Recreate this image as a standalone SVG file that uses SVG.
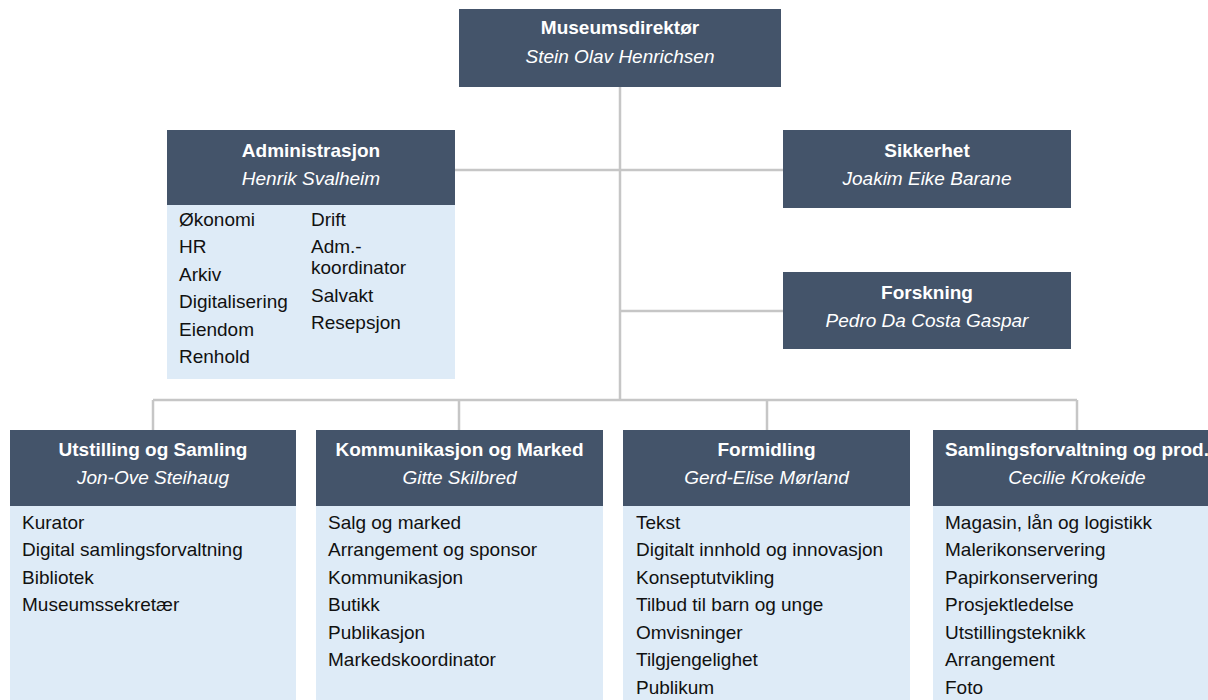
<svg xmlns="http://www.w3.org/2000/svg" width="1208" height="700" viewBox="0 0 1208 700">
<style>
.hd{fill:#44546A}
.bd{fill:#DEEBF7}
.t{font-family:"Liberation Sans",Arial,sans-serif;font-weight:bold;font-size:19px;fill:#FFFFFF;text-anchor:middle}
.n{font-family:"Liberation Sans",Arial,sans-serif;font-style:italic;font-size:19px;fill:#FFFFFF;text-anchor:middle}
.i{font-family:"Liberation Sans",Arial,sans-serif;font-size:19px;fill:#111111}
.c{fill:none;stroke:#C6C6C6;stroke-width:2.5}
</style>
<rect width="1208" height="700" fill="#FFFFFF"/>
<g id="connectors">
<path class="c" d="M620 87V400"/>
<path class="c" d="M455 170H783"/>
<path class="c" d="M620 311H783"/>
<path class="c" d="M153 400H1077"/>
<path class="c" d="M153 400V430M459 400V430M767 400V430M1077 400V430"/>
</g>
<g id="director">
<rect class="hd" x="459" y="9" width="322" height="78"/>
<text class="t" x="620" y="34">Museumsdirektør</text>
<text class="n" x="620" y="63">Stein Olav Henrichsen</text>
</g>
<g id="administrasjon">
<rect class="bd" x="167" y="205" width="288" height="174"/>
<rect class="hd" x="167" y="130" width="288" height="75"/>
<text class="t" x="311" y="157">Administrasjon</text>
<text class="n" x="311" y="185">Henrik Svalheim</text>
<text class="i" x="179" y="225.5">Økonomi</text>
<text class="i" x="179" y="253">HR</text>
<text class="i" x="179" y="280.5">Arkiv</text>
<text class="i" x="179" y="308">Digitalisering</text>
<text class="i" x="179" y="335.5">Eiendom</text>
<text class="i" x="179" y="363">Renhold</text>
<text class="i" x="311" y="225.5">Drift</text>
<text class="i" x="311" y="253">Adm.-</text>
<text class="i" x="311" y="274">koordinator</text>
<text class="i" x="311" y="301.5">Salvakt</text>
<text class="i" x="311" y="329">Resepsjon</text>
</g>
<g id="sikkerhet">
<rect class="hd" x="783" y="130" width="288" height="78"/>
<text class="t" x="927" y="157">Sikkerhet</text>
<text class="n" x="927" y="185">Joakim Eike Barane</text>
</g>
<g id="forskning">
<rect class="hd" x="783" y="272" width="288" height="77"/>
<text class="t" x="927" y="298.5">Forskning</text>
<text class="n" x="927" y="327">Pedro Da Costa Gaspar</text>
</g>
<g id="utstilling">
<rect class="bd" x="10" y="506" width="286" height="200"/>
<rect class="hd" x="10" y="430" width="286" height="76"/>
<text class="t" x="153" y="455.5">Utstilling og Samling</text>
<text class="n" x="153" y="483.5">Jon-Ove Steihaug</text>
<text class="i" x="22" y="528.5">Kurator</text>
<text class="i" x="22" y="556">Digital samlingsforvaltning</text>
<text class="i" x="22" y="583.5">Bibliotek</text>
<text class="i" x="22" y="611">Museumssekretær</text>
</g>
<g id="kommunikasjon">
<rect class="bd" x="316" y="506" width="287" height="200"/>
<rect class="hd" x="316" y="430" width="287" height="76"/>
<text class="t" x="459.5" y="455.5">Kommunikasjon og Marked</text>
<text class="n" x="459.5" y="483.5">Gitte Skilbred</text>
<text class="i" x="328" y="528.5">Salg og marked</text>
<text class="i" x="328" y="556">Arrangement og sponsor</text>
<text class="i" x="328" y="583.5">Kommunikasjon</text>
<text class="i" x="328" y="611">Butikk</text>
<text class="i" x="328" y="638.5">Publikasjon</text>
<text class="i" x="328" y="666">Markedskoordinator</text>
</g>
<g id="formidling">
<rect class="bd" x="623" y="506" width="287" height="200"/>
<rect class="hd" x="623" y="430" width="287" height="76"/>
<text class="t" x="766.5" y="455.5">Formidling</text>
<text class="n" x="766.5" y="483.5">Gerd-Elise Mørland</text>
<text class="i" x="636" y="528.5">Tekst</text>
<text class="i" x="636" y="556">Digitalt innhold og innovasjon</text>
<text class="i" x="636" y="583.5">Konseptutvikling</text>
<text class="i" x="636" y="611">Tilbud til barn og unge</text>
<text class="i" x="636" y="638.5">Omvisninger</text>
<text class="i" x="636" y="666">Tilgjengelighet</text>
<text class="i" x="636" y="693.5">Publikum</text>
</g>
<g id="samlingsforvaltning">
<rect class="bd" x="933" y="506" width="288" height="200"/>
<rect class="hd" x="933" y="430" width="288" height="76"/>
<text class="t" x="1077" y="455.5">Samlingsforvaltning og prod.</text>
<text class="n" x="1077" y="483.5">Cecilie Krokeide</text>
<text class="i" x="945" y="528.5">Magasin, lån og logistikk</text>
<text class="i" x="945" y="556">Malerikonservering</text>
<text class="i" x="945" y="583.5">Papirkonservering</text>
<text class="i" x="945" y="611">Prosjektledelse</text>
<text class="i" x="945" y="638.5">Utstillingsteknikk</text>
<text class="i" x="945" y="666">Arrangement</text>
<text class="i" x="945" y="693.5">Foto</text>
</g>
</svg>
